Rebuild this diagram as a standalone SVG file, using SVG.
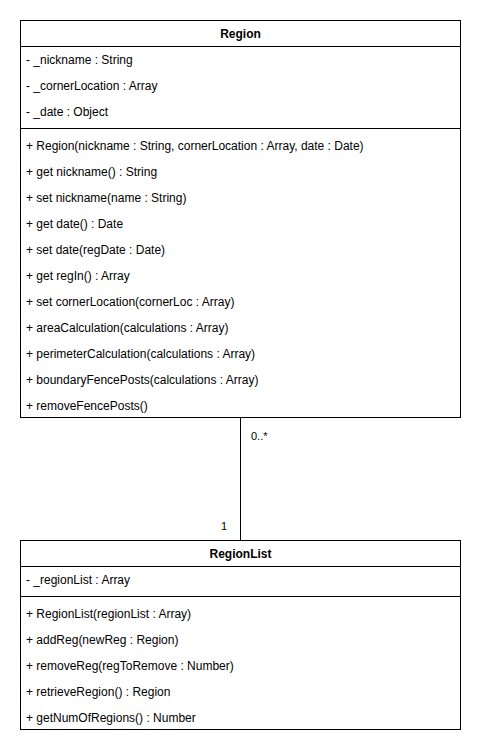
<svg xmlns="http://www.w3.org/2000/svg" width="481" height="754" viewBox="0 0 481 754">
<style>
.box{fill:#fff;stroke:#000;stroke-width:1}
.ln{stroke:#000;stroke-width:1;fill:none}
.t{font-family:"Liberation Sans",Arial,sans-serif;font-size:12px;fill:#000}
.h{font-family:"Liberation Sans",Arial,sans-serif;font-size:12px;font-weight:bold;fill:#000;text-anchor:middle}
.lbl{font-family:"Liberation Sans",Arial,sans-serif;font-size:11px;fill:#000}
</style>
<rect width="481" height="754" fill="#fff"/>
<g id="connectors">
<line class="ln" x1="240.5" y1="418" x2="240.5" y2="540"/>
<text class="lbl" x="251" y="440">0..*</text>
<text class="lbl" x="221" y="530">1</text>
</g>
<g id="Region">
<rect class="box" x="20.5" y="20.5" width="440" height="397"/>
<line class="ln" x1="20.5" y1="46.5" x2="460.5" y2="46.5"/>
<line class="ln" x1="20.5" y1="128.5" x2="460.5" y2="128.5"/>
<text class="h" x="240.5" y="38">Region</text>
<text class="t" x="26" y="64">- _nickname : String</text>
<text class="t" x="26" y="90">- _cornerLocation : Array</text>
<text class="t" x="26" y="116">- _date : Object</text>
<text class="t" x="26" y="150">+ Region(nickname : String, cornerLocation : Array, date : Date)</text>
<text class="t" x="26" y="176">+ get nickname() : String</text>
<text class="t" x="26" y="202">+ set nickname(name : String)</text>
<text class="t" x="26" y="228">+ get date() : Date</text>
<text class="t" x="26" y="254">+ set date(regDate : Date)</text>
<text class="t" x="26" y="280">+ get regIn() : Array</text>
<text class="t" x="26" y="306">+ set cornerLocation(cornerLoc : Array)</text>
<text class="t" x="26" y="332">+ areaCalculation(calculations : Array)</text>
<text class="t" x="26" y="358">+ perimeterCalculation(calculations : Array)</text>
<text class="t" x="26" y="384">+ boundaryFencePosts(calculations : Array)</text>
<text class="t" x="26" y="410">+ removeFencePosts()</text>
</g>
<g id="RegionList">
<rect class="box" x="20.5" y="540.5" width="440" height="189"/>
<line class="ln" x1="20.5" y1="566.5" x2="460.5" y2="566.5"/>
<line class="ln" x1="20.5" y1="596.5" x2="460.5" y2="596.5"/>
<text class="h" x="240.5" y="558">RegionList</text>
<text class="t" x="26" y="584">- _regionList : Array</text>
<text class="t" x="26" y="618">+ RegionList(regionList : Array)</text>
<text class="t" x="26" y="644">+ addReg(newReg : Region)</text>
<text class="t" x="26" y="670">+ removeReg(regToRemove : Number)</text>
<text class="t" x="26" y="696">+ retrieveRegion() : Region</text>
<text class="t" x="26" y="722">+ getNumOfRegions() : Number</text>
</g>
</svg>
